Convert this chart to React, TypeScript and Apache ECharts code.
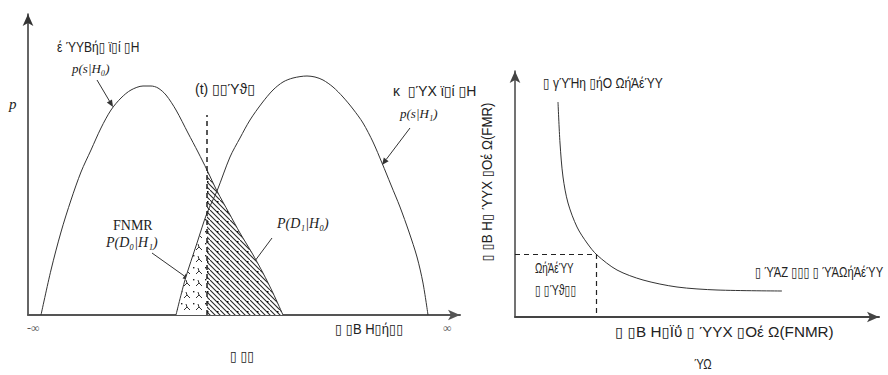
import React, { useEffect, useRef } from "react";
import * as echarts from "echarts";

// Left panel: score distributions
const H0_X = [13, 23, 33, 43, 53, 63, 73, 83, 93, 103, 115, 123, 130, 138, 148, 160, 170, 179, 189, 201, 212, 224, 235, 245, 255];
const H0_Y = [0, 45, 83, 115, 143, 165, 187, 205, 217, 225, 229, 229, 227, 220, 205, 182, 163, 145, 124, 102, 82, 62, 42, 22, 0];
const H1_X = [148, 157, 169, 179, 189, 202, 212, 222, 234, 245, 255, 265, 279, 287, 295, 305, 315, 325, 335, 345, 354, 363, 372, 381, 389, 395, 400];
const H1_Y = [0, 35, 72, 102, 124, 158, 177, 195, 212, 225, 233, 237, 239, 238, 235, 228, 218, 206, 192, 173, 152, 130, 108, 83, 58, 32, 0];
const THRESHOLD = 179;
const THRESHOLD_TOP = 200;
const LEFT_X_MAX = 432;
const LEFT_Y_MAX = 301;

// Right panel: FMR vs FNMR trade-off curve
const FNMR_X = [43, 45, 48, 53, 62, 72, 82, 102, 128, 162, 202, 267];
const FMR_Y = [215, 174, 140, 114, 90, 74, 62, 47, 37, 30, 27, 26];
const EER = [81, 63];
const RIGHT_X_MAX = 364;
const RIGHT_Y_MAX = 246;

const SANS = '"Liberation Sans", Arial, "DejaVu Sans", sans-serif';
const SERIF = '"Liberation Serif", "Times New Roman", "DejaVu Serif", serif';
const INK = "#222";

function zip(xs: number[], ys: number[]) {
  return xs.map((x, i) => [x, ys[i]]);
}

function hatchCanvas() {
  const c = document.createElement("canvas");
  c.width = 10;
  c.height = 10;
  const g = c.getContext("2d")!;
  g.fillStyle = "#fff";
  g.fillRect(0, 0, 10, 10);
  g.strokeStyle = "#2a2a2a";
  g.lineWidth = 1.1;
  g.beginPath();
  g.moveTo(-1, -1);
  g.lineTo(11, 11);
  g.moveTo(-1, 4);
  g.lineTo(6, 11);
  g.moveTo(4, -1);
  g.lineTo(11, 6);
  g.stroke();
  g.fillStyle = "#111";
  g.fillRect(7, 1, 1.5, 1.5);
  return c;
}

function marksCanvas() {
  const c = document.createElement("canvas");
  c.width = 12;
  c.height = 12;
  const g = c.getContext("2d")!;
  g.fillStyle = "#fff";
  g.fillRect(0, 0, 12, 12);
  g.strokeStyle = "#333";
  g.lineWidth = 1;
  g.beginPath();
  g.moveTo(4, 10);
  g.lineTo(7, 7);
  g.lineTo(10, 10);
  g.moveTo(7, 7);
  g.lineTo(6, 4);
  g.stroke();
  g.fillStyle = "#222";
  g.fillRect(1, 3, 1.4, 1.4);
  return c;
}

function txt(x: number, y: number, text: string, opt: any = {}) {
  return {
    type: "text",
    x,
    y,
    rotation: opt.rotation || 0,
    scaleX: opt.sx || 1,
    style: {
      text,
      fill: opt.color || INK,
      font: opt.font || `14px ${SANS}`,
      textAlign: opt.align || "left",
      textVerticalAlign: "middle",
    },
    silent: true,
  };
}

function arrow(x1: number, y1: number, x2: number, y2: number) {
  const a = Math.atan2(y2 - y1, x2 - x1);
  const L = 7;
  const W = 3;
  const bx = x2 - L * Math.cos(a);
  const by = y2 - L * Math.sin(a);
  const px = -Math.sin(a) * W;
  const py = Math.cos(a) * W;
  return [
    {
      type: "line",
      shape: { x1, y1, x2: bx, y2: by },
      style: { stroke: "#333", lineWidth: 1 },
      silent: true,
    },
    {
      type: "polygon",
      shape: { points: [[x2, y2], [bx + px, by + py], [bx - px, by - py]] },
      style: { fill: "#333" },
      silent: true,
    },
  ];
}

export default function App() {
  const ref = useRef<HTMLDivElement>(null);

  useEffect(() => {
    if (!ref.current) return;
    const chart = echarts.init(ref.current, undefined, { renderer: "svg" });

    const h0 = zip(H0_X, H0_Y);
    const h1 = zip(H1_X, H1_Y);
    const rightTail = h0.filter((p) => p[0] >= THRESHOLD);
    const leftTail = h1.filter((p) => p[0] <= THRESHOLD);

    const hatch = hatchCanvas();
    const marks = marksCanvas();

    const axisLine = (w: number, color: string) => ({
      show: true,
      onZero: false,
      symbol: ["none", "arrow"],
      symbolSize: [8, 12],
      lineStyle: { color, width: w },
    });
    const bare = {
      axisTick: { show: false },
      axisLabel: { show: false },
      splitLine: { show: false },
    };
    const SM = 0.3;

    chart.setOption({
      animation: false,
      backgroundColor: "#fff",
      grid: [
        { left: 28, top: 14, width: 432, bottom: 60 },
        { left: 515, top: 71, width: 364, bottom: 58 },
      ],
      xAxis: [
        { type: "value", gridIndex: 0, min: 0, max: LEFT_X_MAX, axisLine: axisLine(2, "#555"), ...bare },
        { type: "value", gridIndex: 1, min: 0, max: RIGHT_X_MAX, axisLine: axisLine(2, "#444"), ...bare },
      ],
      yAxis: [
        { type: "value", gridIndex: 0, min: 0, max: LEFT_Y_MAX, axisLine: axisLine(1.5, "#333"), ...bare },
        { type: "value", gridIndex: 1, min: 0, max: RIGHT_Y_MAX, axisLine: axisLine(1.5, "#444"), ...bare },
      ],
      series: [
        {
          type: "line",
          xAxisIndex: 0,
          yAxisIndex: 0,
          data: rightTail,
          smooth: SM,
          symbol: "none",
          lineStyle: { width: 0 },
          areaStyle: {
            opacity: 1,
            color: { image: hatch, repeat: "repeat", imageWidth: 10, imageHeight: 10 } as any,
          },
          z: 1,
          silent: true,
          markLine: {
            silent: true,
            symbol: ["none", "none"],
            label: { show: false },
            lineStyle: { type: [5, 4], color: "#222", width: 1.5 },
            data: [[{ coord: [THRESHOLD, 0] }, { coord: [THRESHOLD, THRESHOLD_TOP] }]],
          },
        },
        {
          type: "line",
          xAxisIndex: 0,
          yAxisIndex: 0,
          data: leftTail,
          smooth: SM,
          symbol: "none",
          lineStyle: { width: 0 },
          areaStyle: {
            opacity: 1,
            color: { image: marks, repeat: "repeat", imageWidth: 12, imageHeight: 12 } as any,
          },
          z: 1,
          silent: true,
        },
        {
          type: "line",
          xAxisIndex: 0,
          yAxisIndex: 0,
          data: h0,
          smooth: SM,
          symbol: "none",
          lineStyle: { color: "#333", width: 1 },
          z: 3,
          silent: true,
        },
        {
          type: "line",
          xAxisIndex: 0,
          yAxisIndex: 0,
          data: h1,
          smooth: SM,
          symbol: "none",
          lineStyle: { color: "#333", width: 1 },
          z: 3,
          silent: true,
        },
        {
          type: "line",
          xAxisIndex: 1,
          yAxisIndex: 1,
          data: zip(FNMR_X, FMR_Y),
          smooth: 0.3,
          symbol: "none",
          lineStyle: { color: "#333", width: 1 },
          silent: true,
          markLine: {
            silent: true,
            symbol: ["none", "none"],
            label: { show: false },
            lineStyle: { type: [5, 4], color: "#222", width: 1.2 },
            data: [
              [{ coord: [0, EER[1]] }, { coord: [EER[0], EER[1]] }],
              [{ coord: [EER[0], EER[1]] }, { coord: [EER[0], 0] }],
            ],
          },
        },
      ],
      graphic: [
        // left panel texts
        txt(57, 47, "έ ΎΥΒή▯ ϊ▯ί ▯Η", { sx: 0.86 }),
        txt(72, 68, "p(s|H₀)", { font: `italic 13px ${SERIF}` }),
        ...arrow(97, 80, 113, 107),
        txt(9, 104, "p", { font: `italic 15px ${SERIF}` }),
        txt(195, 89, "(t) ▯▯Ύϑ▯"),
        txt(393, 91, "κ  ▯ΎΧ ϊ▯ί ▯Η"),
        txt(400, 113, "p(s|H₁)", { font: `italic 13px ${SERIF}` }),
        ...arrow(410, 128, 382, 165),
        txt(113, 225, "FNMR", { font: `14px ${SERIF}` }),
        txt(106, 242, "P(D₀|H₁)", { font: `italic 14px ${SERIF}` }),
        ...arrow(152, 253, 190, 280),
        txt(277, 223, "P(D₁|H₀)", { font: `italic 14px ${SERIF}` }),
        ...arrow(272, 238, 243, 277),
        txt(27, 328, "-∞", { font: `12px ${SERIF}`, color: "#555" }),
        txt(443, 328, "∞", { font: `12px ${SERIF}`, color: "#555" }),
        txt(335, 329, "▯ ▯Β Η▯ή▯▯", { sx: 0.93 }),
        txt(230, 356, "▯ ▯▯", { sx: 0.9 }),
        // right panel texts
        txt(543, 83, "▯ γΎΉη ▯ήΟ ΩήΆέΎΥ", { sx: 0.86 }),
        txt(535, 268, "ΩήΆέΎΥ", { sx: 0.7 }),
        txt(535, 290, "▯ ▯Ύϑ▯▯", { sx: 0.76 }),
        txt(755, 273, "▯ ΎΆΖ ▯▯▯ ▯ ΎΆΩήΆέΎΥ", { sx: 0.8 }),
        txt(615, 332, "▯ ▯Β Η▯Ϊΰ ▯ ΎΥΧ ▯Οέ Ω(FNMR)", { sx: 1.09 }),
        txt(703, 365, "ΎΩ", { align: "center", sx: 0.8 }),
        txt(487, 182, "▯ ▯Β Η▯ ΎΥΧ ▯Οέ Ω(FMR)", { rotation: Math.PI / 2, align: "center", sx: 0.95 }),
      ],
    });

    return () => chart.dispose();
  }, []);

  return (
    <div
      ref={ref}
      style={{ position: "fixed", left: 0, top: 0, width: 888, height: 375, background: "#fff" }}
    />
  );
}
